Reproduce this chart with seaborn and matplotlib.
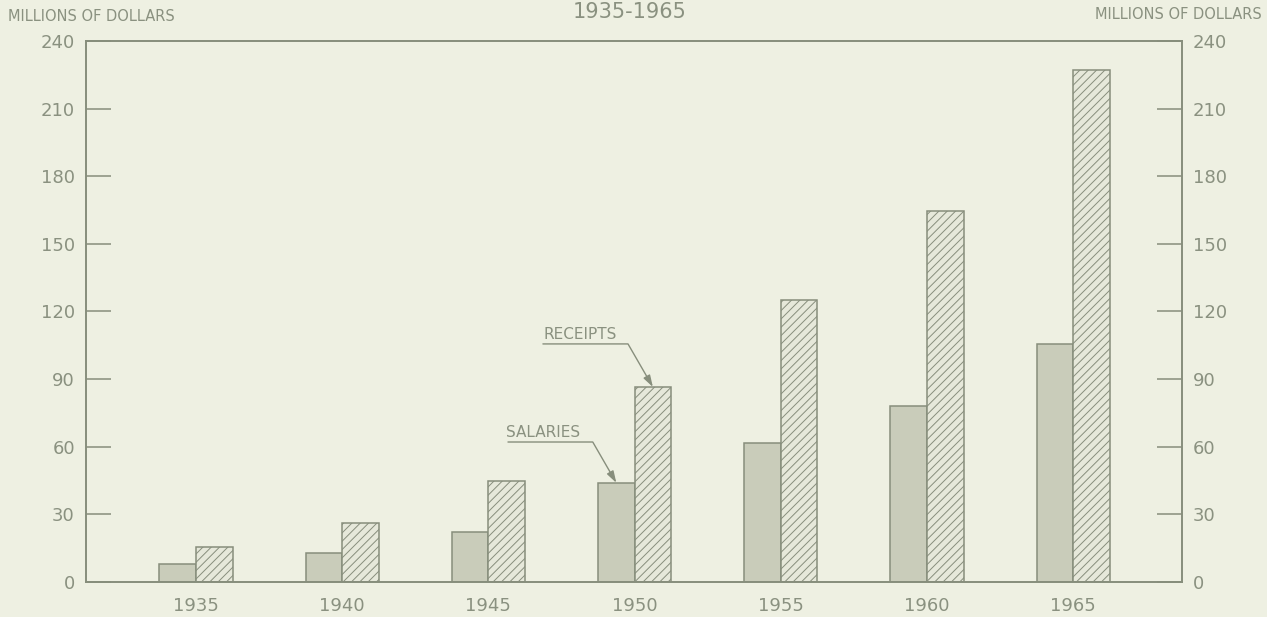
import pandas as pd
import matplotlib
matplotlib.use("Agg")
import matplotlib.pyplot as plt
import seaborn as sns

# Datos (millones de dólares)
years = ["1935", "1940", "1945", "1950", "1955", "1960", "1965"]
salaries = [8, 12.8, 22.4, 44, 61.6, 78, 105.4]
receipts = [15.5, 26, 44.8, 86.5, 125, 164.4, 227]
series_names = ["SALARIES", "RECEIPTS"]
yticks = [0, 30, 60, 90, 120, 150, 180, 210, 240]

paper = "#eef0e2"
ink = "#878e7c"
text_ink = "#8a9180"
sal_fill = "#c9ccba"
rec_fill = "#e6e8da"

df = pd.DataFrame({
    "year": years * 2,
    "value": salaries + receipts,
    "series": [series_names[0]] * len(years) + [series_names[1]] * len(years),
})

sns.set_style("white")
plt.rcParams["font.family"] = ["DejaVu Sans"]
plt.rcParams["hatch.linewidth"] = 0.7

fig = plt.figure(figsize=(12.67, 6.17), dpi=100)
fig.patch.set_facecolor(paper)
ax = fig.add_axes([0.0679, 0.0567, 0.865, 0.877])
ax.set_facecolor(paper)

sns.barplot(data=df, x="year", y="value", hue="series", palette=[sal_fill, rec_fill],
            width=0.5, gap=0, saturation=1, edgecolor=ink, linewidth=1.1,
            legend=False, ax=ax)

# rayado para los ingresos
for bar in ax.containers[1]:
    bar.set_hatch("////")

ax.set_xlim(-0.752, 6.744)
ax.set_ylim(0, 240)
ax.set_xlabel("")
ax.set_ylabel("")
ax.set_yticks(yticks)
ax.set_yticklabels([str(v) for v in yticks])
for s in ax.spines.values():
    s.set_color(ink)
    s.set_linewidth(1.2)
ax.tick_params(axis="y", direction="in", length=18, width=1.1, color=ink,
               labelcolor=text_ink, labelsize=13, pad=8)
ax.tick_params(axis="x", length=0, pad=11, labelcolor=text_ink, labelsize=13)

ax2 = ax.twinx()
ax2.set_ylim(0, 240)
ax2.set_yticks(yticks)
ax2.set_yticklabels([str(v) for v in yticks])
for s in ax2.spines.values():
    s.set_color(ink)
    s.set_linewidth(1.2)
ax2.tick_params(axis="y", direction="in", length=18, width=1.1, color=ink,
                labelcolor=text_ink, labelsize=13, pad=8)

# etiquetas con flecha
arrow = dict(arrowstyle="-|>,head_length=0.7,head_width=0.22",
             connectionstyle="angle,angleA=0,angleB=120,rad=0",
             color=ink, lw=1.0, shrinkA=0, shrinkB=0)
ax.annotate("", xy=(3 + 0.125, receipts[3]), xytext=(2.373, 105.6), arrowprops=arrow)
ax.text(2.627, 109.6, "RECEIPTS", ha="center", va="center", fontsize=11, color=text_ink)
ax.annotate("", xy=(3 - 0.125, salaries[3]), xytext=(2.134, 62.1), arrowprops=arrow)
ax.text(2.373, 66.1, "SALARIES", ha="center", va="center", fontsize=11, color=text_ink)

fig.text(0.006, 0.974, "MILLIONS OF DOLLARS", ha="left", va="center", fontsize=10.5, color=text_ink)
fig.text(0.996, 0.976, "MILLIONS OF DOLLARS", ha="right", va="center", fontsize=10.5, color=text_ink)
fig.text(0.497, 0.996, "1935-1965", ha="center", va="top", fontsize=15, color=text_ink)

fig.savefig("out.png", dpi=100, facecolor=paper)
